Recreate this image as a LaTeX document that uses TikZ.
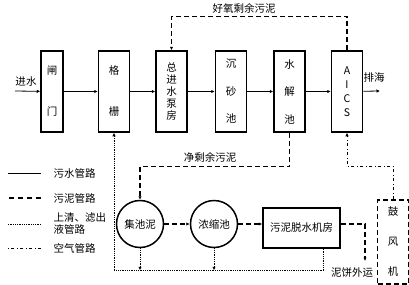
\documentclass[tikz,border=0pt]{standalone}
\usepackage{fontspec}
\newfontfamily\cjk{Noto Sans CJK SC}
\usetikzlibrary{positioning,arrows.meta}
\tikzset{
  pbox/.style={rectangle,draw,line width=1.5pt,minimum width=#1,
    minimum height=81pt,inner sep=0pt,align=center},
  pbox/.default=31pt,
  tank/.style={circle,draw,line width=1.5pt,minimum size=47pt,inner sep=0pt},
  tip/.style={-{Latex[length=3.5pt,width=3.5pt]}},
  water/.style={tip,line width=0.8pt},
  sludge/.style={tip,line width=1.4pt,dash pattern=on 5pt off 3pt},
  liquid/.style={tip,line width=1pt,dash pattern=on 0.8pt off 1pt},
  air/.style={tip,line width=1pt,dash pattern=on 3pt off 2.5pt on 1pt off 2.5pt},
  legend/.style={anchor=west,align=left}
}

\begin{document}
\begin{tikzpicture}[x=1pt,y=-1pt,font=\cjk\fontsize{10.5}{12}\selectfont]
  \useasboundingbox (0,0) rectangle (409,284);

  % main water line
  \node[pbox=22pt] (gate) at (52,91.5) {闸\\[29pt]门};
  \node[pbox, right=34pt of gate] (screen) {格\\[29pt]栅};
  \node[pbox, right=25pt of screen] (pump) {总\\进\\水\\泵\\房};
  \node[pbox, right=27pt of pump] (grit) {沉\\[15.5pt]砂\\[15.5pt]池};
  \node[pbox, right=26pt of grit] (hydro) {水\\[15.5pt]解\\[15.5pt]池};
  \node[pbox, right=25pt of hydro] (aics) {A\\[2pt]I\\[2pt]C\\[2pt]S};

  \coordinate (inlet) at (15,91);
  \coordinate (sea) at (380,91);
  \node (inlbl) at (26,82) {进水};
  \node (sealbl) at (374,78) {排海};

  \draw[water] (inlet) -- (gate);
  \draw[water] (gate) -- (screen);
  \draw[water] (screen) -- (pump);
  \draw[water] (pump) -- (grit);
  \draw[water] (grit) -- (hydro);
  \draw[water] (hydro) -- (aics);
  \draw[water] (aics) -- (sea);

  % sludge treatment
  \node[tank] (collect) at (140,224) {集池泥};
  \node[tank] (thicken) at (214,224) {浓缩池};
  \node[rectangle,draw,line width=1.5pt,minimum width=77pt,minimum height=40pt]
    (dewater) at (301.5,228) {污泥脱水机房};
  \node[rectangle,draw,line width=1.4pt,dash pattern=on 5pt off 3pt,
    minimum width=31pt,minimum height=84pt,align=center]
    (blower) at (393,242) {鼓\\[18pt]风\\[18pt]机};
  \coordinate (cake) at (365,261);
  \node (cakelbl) at (352,273) {泥饼外运};

  \draw[sludge] (aics.north) -- ++(0,-34) -| (pump.north);
  \node (aerlbl) at (244,8) {好氧剩余污泥};
  \draw[sludge] (hydro.south) -- ++(0,34) -| (collect.north);
  \node (netlbl) at (210,157) {净剩余污泥};
  \draw[sludge] (collect) -- (thicken);
  \draw[sludge] (thicken.east) -- (thicken.east -| dewater.west);
  \draw[sludge] (dewater.east |- thicken.east) -| (cake);

  \draw[liquid] ([xshift=22pt]dewater.south) -- ++(0,22) -| (screen.south);
  \draw[liquid] (collect.south) -- ++(0,22);
  \draw[liquid] (thicken.south) -- ++(0,22);

  \draw[air] (blower.north) -- ++(0,-33) -| (aics.south);

  % legend
  \node[legend] (lgwater) at (50,173) {污水管路};
  \node[legend] (lgsludge) at (50,198) {污泥管路};
  \node[legend] (lgliquid) at (50,224) {上清、滤出\\液管路};
  \node[legend] (lgair) at (50,248) {空气管路};
  \draw[line width=0.8pt] ([xshift=-9pt]lgwater.west) -- ++(-33,0);
  \draw[line width=1.4pt,dash pattern=on 5pt off 4pt] ([xshift=-9pt]lgsludge.west) -- ++(-33,0);
  \draw[line width=1pt,dash pattern=on 0.8pt off 1pt] ([xshift=-9pt]lgliquid.west) -- ++(-33,0);
  \draw[line width=1pt,dash pattern=on 3pt off 2.5pt on 1pt off 2.5pt] ([xshift=-9pt]lgair.west) -- ++(-33,0);
\end{tikzpicture}
\end{document}
